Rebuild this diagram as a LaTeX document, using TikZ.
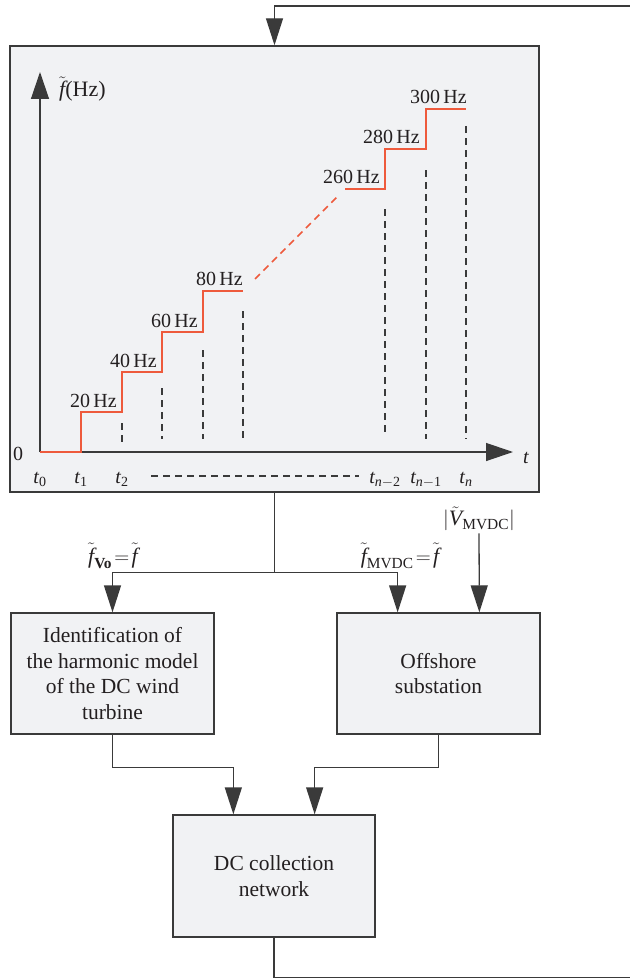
\documentclass[tikz,border=0pt]{standalone}
\usepackage{amsmath}
\usepackage{fontspec}
\setmainfont{Liberation Serif}
\usetikzlibrary{arrows.meta,calc}
\definecolor{boxfill}{HTML}{F1F2F4}
\definecolor{edge}{HTML}{3A3A3A}
\definecolor{stepred}{HTML}{EE5A3C}
\definecolor{ink}{HTML}{231F20}
\newcommand{\ft}{\tilde{\textit{f}}}
\newcommand{\tv}[1]{\textit{t}_{#1}}
\tikzset{
  panelbox/.style={draw=edge, fill=boxfill, line width=1.4pt, inner sep=0pt},
  block/.style={draw=edge, fill=boxfill, line width=1.3pt, minimum width=203pt, minimum height=121pt,
    align=center, text=ink, font=\fontsize{21.5}{25.5}\selectfont, inner sep=0pt},
  arr/.style={draw=edge, line width=1.3pt, -{Triangle[length=27pt,width=17pt]}},
  axisarr/.style={draw=edge, line width=1.3pt, -{Triangle[length=27pt,width=18pt]}},
  conn/.style={draw=edge, line width=1.3pt},
  hz/.style={font=\fontsize{20}{24}\selectfont, text=ink, anchor=base east, inner sep=0pt},
  lab/.style={font=\fontsize{20}{24}\selectfont, text=ink, inner sep=0pt},
  siglab/.style={font=\fontsize{22}{26}\selectfont, text=ink, inner sep=0pt},
  vdash/.style={draw=edge, line width=1.2pt, dash pattern=on 7pt off 5pt},
  stepline/.style={draw=stepred, line width=1.5pt},
  reddash/.style={draw=stepred, line width=1.5pt, dash pattern=on 7pt off 5pt},
}
\begin{document}
\begin{tikzpicture}[x=1pt,y=-1pt]
\useasboundingbox (0,0) rectangle (629,979);

% main panel
\node[panelbox, minimum width=529pt, minimum height=446pt] (panel) at (274.5,269) {};

% axes
\coordinate (origin) at (40,452);
\draw[axisarr] (origin) -- (40,72);
\draw[axisarr] (origin) -- (513,452);
\node[siglab, anchor=base west] (ylab) at (59,97) {$\ft$(Hz)};
\node[lab] (zero) at (18,454) {0};
\node[lab] (tlab) at (526,458) {\textit{t}};

% dashed verticals
\draw[vdash] (122,423) -- (122,444);
\draw[vdash] (162,388) -- (162,439);
\draw[vdash] (203,350) -- (203,439);
\draw[vdash] (243,311) -- (243,439);
\draw[vdash] (385,209) -- (385,434);
\draw[vdash] (426,170) -- (426,439);
\draw[vdash] (466,126) -- (466,439);

% red steps
\draw[stepline] (40,452) -- (81,452) -- (81,412) -- (122,412) -- (122,372) -- (162,372)
  -- (162,332) -- (203,332) -- (203,291) -- (243,291);
\draw[reddash] (255,279) -- (337,197);
\draw[stepline] (345,189) -- (385,189) -- (385,149) -- (426,149) -- (426,109) -- (466,109);

% Hz labels
\node[hz] (h20) at (117,407) {20\,Hz};
\node[hz] (h40) at (157,367) {40\,Hz};
\node[hz] (h60) at (198,327) {60\,Hz};
\node[hz] (h80) at (243,285) {80\,Hz};
\node[hz] (h260) at (380,183) {260\,Hz};
\node[hz] (h280) at (420,143) {280\,Hz};
\node[hz] (h300) at (467,103) {300\,Hz};

% time labels
\node[lab, anchor=base] (t0) at (40,483) {$\tv{\textrm{0}}$};
\node[lab, anchor=base] (t1) at (81,483) {$\tv{\textrm{1}}$};
\node[lab, anchor=base] (t2) at (122,483) {$\tv{\textrm{2}}$};
\node[lab, anchor=base] (tn2) at (385,483) {$\tv{\textit{n}-\textrm{2}}$};
\node[lab, anchor=base] (tn1) at (426,483) {$\tv{\textit{n}-\textrm{1}}$};
\node[lab, anchor=base] (tn) at (466,483) {$\tv{\textit{n}}$};
\draw[vdash] (151,476) -- (359,476);

% blocks
\node[block] (ident) at (112.5,673.5) {Identification of\\the harmonic model\\of the DC wind\\turbine};
\node[block] (off) at (438.5,673.5) {Offshore\\substation};
\node[block, minimum width=202pt, minimum height=122pt] (dc) at (274,876) {DC collection\\network};

% labels of signals
\node[siglab] (fvo) at (113,556) {$\ft_{\textbf{Vo}}\!=\!\ft$};
\node[siglab] (fmvdc) at (400,556) {$\ft_{\textrm{MVDC}}\!=\!\ft$};
\node[siglab] (vmvdc) at (479,519) {$|\tilde{\textit{V}}_{\textrm{MVDC}}|$};

% connectors
\coordinate (split) at ($(panel.south)+(0,80)$);
\coordinate (offin1) at ($(off.north west)!0.3!(off.north east)$);
\coordinate (offin2) at ($(off.north west)!0.7!(off.north east)$);
\coordinate (dcin1) at ($(dc.north west)!0.3!(dc.north east)$);
\coordinate (dcin2) at ($(dc.north west)!0.7!(dc.north east)$);
\draw[conn] (panel.south) -- (split);
\draw[arr] (split) -| (ident.north);
\draw[arr] (split) -| (offin1);
\draw[arr] (vmvdc.south) ++(0,2) -- (offin2);
\draw[arr] (ident.south) -- ++(0,33) -| (dcin1);
\draw[arr] (off.south) -- ++(0,33) -| (dcin2);
\coordinate (fbA) at (632,977.5);
\coordinate (fbB) at (632,6);
\draw[arr] (dc.south) |- (fbA) -- (fbB) -| (panel.north);
\end{tikzpicture}
\end{document}
